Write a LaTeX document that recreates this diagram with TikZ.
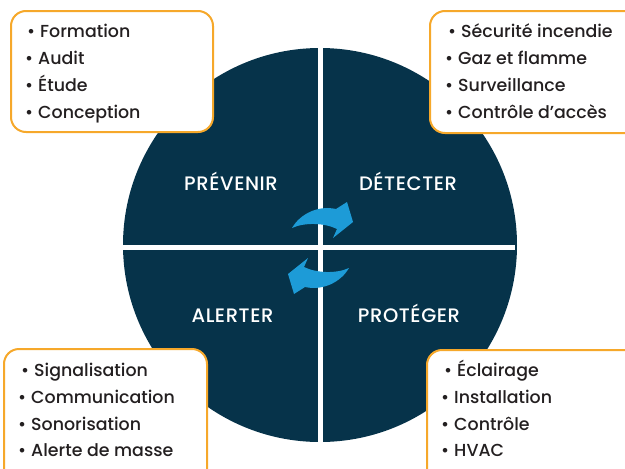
\documentclass[tikz,border=0pt]{standalone}
\usepackage{fontspec}
\setmainfont{Poppins}
\newfontfamily\medfont{Poppins Medium}
\newfontfamily\labelfont{Poppins Medium}[LetterSpace=3]
\definecolor{navy}{HTML}{06334A}
\definecolor{boxorange}{HTML}{F6A82A}
\definecolor{arrowblue}{HTML}{1D9BD7}
\definecolor{ink}{HTML}{231F20}
\begin{document}
\begin{tikzpicture}[x=1pt,y=-1pt,
  listbox/.style={draw=boxorange,line width=2pt,fill=white,rounded corners=15pt},
  item/.style={anchor=base west,inner sep=0pt,text=ink,font=\medfont\fontsize{17.4}{19}\selectfont},
  phase/.style={anchor=base,inner sep=0pt,text=white,font=\labelfont\fontsize{19.5}{21}\selectfont},
  divider/.style={draw=white,line width=4.5pt},
  cyclearrow/.style={fill=arrowblue}]
\useasboundingbox (0,0) rectangle (625,469);
\begin{scope}
\clip (0,0) rectangle (625,469);
% circle
\fill[navy] (320,245) circle (197);
\draw[divider] (122.5,247.5) -- (515,247.5);
\draw[divider] (320.5,47) -- (320.5,443);
% arrows
\fill[cyclearrow] (292,228) .. controls (300,214) and (318,205) .. (336,209) -- (347,202) -- (353,222) -- (333,238) -- (337,229) .. controls (325,223) and (305,222) .. cycle;
\fill[cyclearrow,rotate around={180:(320.5,248)}] (292,228) .. controls (300,214) and (318,205) .. (336,209) -- (347,202) -- (353,222) -- (333,238) -- (337,229) .. controls (325,223) and (305,222) .. cycle;
% labels
\node[phase] (prevenir) at (231,190.5) {PRÉVENIR};
\node[phase] (detecter) at (408,190.5) {DÉTECTER};
\node[phase] (alerter) at (232.5,322.5) {ALERTER};
\node[phase] (proteger) at (409,322.5) {PROTÉGER};
% boxes
\draw[listbox] (11,11) rectangle (213,132);
\draw[listbox] (430,11) rectangle (640,133);
\draw[listbox] (4,349) rectangle (207,485);
\draw[listbox] (427,350) rectangle (640,485);
% TL
\node[item] (tl1) at (27,37.5) {\textbullet\hspace{5pt}Formation};
\node[item] (tl2) at (25,64.5) {\textbullet\hspace{5pt}Audit};
\node[item] (tl3) at (25,91.5) {\textbullet\hspace{5pt}Étude};
\node[item] (tl4) at (25,118.5) {\textbullet\hspace{5pt}Conception};
% TR
\node[item] (tr1) at (448,37) {\textbullet\hspace{5pt}Sécurité incendie};
\node[item] (tr2) at (445,64) {\textbullet\hspace{5pt}Gaz et flamme};
\node[item] (tr3) at (445,91) {\textbullet\hspace{5pt}Surveillance};
\node[item] (tr4) at (445,118) {\textbullet\hspace{5pt}Contrôle d’accès};
% BL
\node[item] (bl1) at (21,376.5) {\textbullet\hspace{5pt}Signalisation};
\node[item] (bl2) at (18,403.5) {\textbullet\hspace{5pt}Communication};
\node[item] (bl3) at (18,430) {\textbullet\hspace{5pt}Sonorisation};
\node[item] (bl4) at (18,456.5) {\textbullet\hspace{5pt}Alerte de masse};
% BR
\node[item] (br1) at (444,376) {\textbullet\hspace{5pt}Éclairage};
\node[item] (br2) at (441,403) {\textbullet\hspace{5pt}Installation};
\node[item] (br3) at (441,430) {\textbullet\hspace{5pt}Contrôle};
\node[item] (br4) at (441,456.5) {\textbullet\hspace{5pt}HVAC};
\end{scope}
\end{tikzpicture}
\end{document}
